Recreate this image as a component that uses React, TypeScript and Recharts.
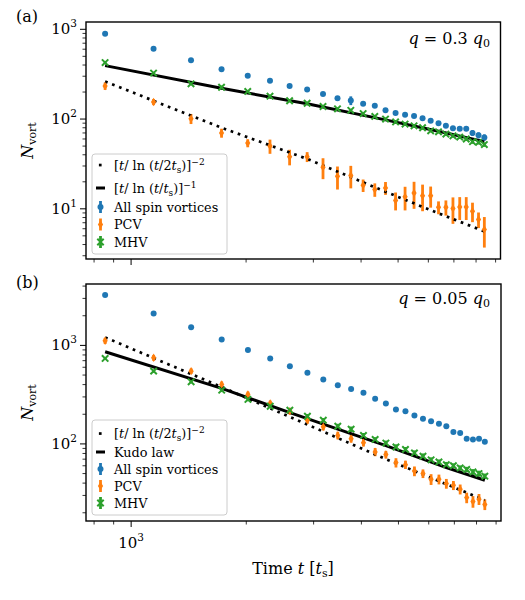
import { ScatterChart, Scatter, XAxis, YAxis, ErrorBar } from "recharts";

const FONT = "'DejaVu Serif', serif";
const BLUE = "#1f77b4";
const ORANGE = "#ff7f0e";
const GREEN = "#2ca02c";

// sampling times (units of t_s)
const times = [855, 1145, 1435, 1725, 2020, 2310, 2600, 2890, 3180, 3470, 3760, 4050, 4345, 4635, 4925, 5215, 5505, 5795, 6085, 6380, 6670, 6960, 7250, 7540, 7830, 8120, 8410];

// (a) q = 0.3 q0
const allA = [894, 608, 453, 359, 303, 267, 234, 213, 190, 171, 161, 148, 141, 125, 117, 112, 108, 102, 96, 90, 84, 79, 78, 78, 70, 66, 62.5];
const allAErr = [10, 8, 6, 5, 5, 4, 4, 4, 4, 4, 18, 3, 3, 3, 3, 3, 3, 3, 3, 3, 3, 3, 4, 4, 5, 5, 5];
const pcvA = [233, 155, 101, 70, 54, 50, 38, 38, 29, 23, 23.5, 18.3, 16.4, 17.1, 12.4, 13.6, 15, 14, 14, 10.4, 10.4, 10.1, 10.5, 10.5, 9.4, 7.6, 5.9];
const pcvAErr = [22, 12, 13, 8, 5.5, 9, 7.5, 4.8, 7.6, 6.6, 6.6, 2.9, 2.8, 2.8, 2.8, 4, 5, 4.6, 3.7, 1.7, 2, 3.3, 3, 3, 2.3, 1.5, 2.2];
const mhvA = [426, 325, 247, 226, 203, 180, 160, 150, 138, 130, 125, 115, 107, 100, 93, 88, 84, 80, 74, 72, 68, 65, 63, 60, 56, 55, 52];
const mhvAErr = [14, 11, 9, 10, 7, 6, 6, 6, 5, 5, 5, 4.5, 4, 4, 4, 3.5, 3.5, 3.5, 3, 3, 3, 3, 3, 3, 3, 3, 3];
const fitTimesA = [855, 1725, 2890, 4635, 6380, 8410];
const dottedA = [262, 80, 36, 15.5, 8.9, 5.6];
const solidA = [394, 220, 148, 98, 73, 56];

// (b) q = 0.05 q0
const allB = [3245, 2113, 1524, 1151, 896, 738, 616, 527, 451, 395, 360, 330, 287, 257, 224, 215, 194, 180, 170, 160, 151, 132, 129, 113, 111, 113, 105];
const allBErr = [40, 30, 25, 20, 15, 12, 10, 9, 8, 7, 7, 6, 6, 5, 5, 5, 5, 5, 9, 6, 8, 5, 5, 4, 4, 4, 4];
const pcvB = [1113, 748, 548, 402, 318, 257, 215, 174, 149, 122, 113, 103, 83, 78, 64.6, 61.6, 53, 50, 43.8, 43.8, 39.6, 38, 34.7, 28.5, 26, 27.5, 24.3];
const pcvBErr = [80, 50, 35, 28, 22, 18, 16, 14, 12, 11, 10, 9, 8, 7, 7, 6, 6, 5, 5.5, 5, 4.5, 4, 4, 3.5, 3.5, 3.5, 3];
const mhvB = [738, 548, 427, 351, 283, 241, 220, 191, 174, 151, 141, 122, 111, 102, 93, 88, 81, 75, 69, 65.5, 61.6, 60, 57, 55, 52, 50, 47];
const mhvBErr = [25, 20, 16, 15, 12, 11, 12, 10, 9, 9, 9, 7, 6, 6, 6, 5, 5, 5, 4, 4, 4, 3.5, 3.5, 3.5, 3.5, 3.5, 3];
const fitTimesB = [855, 1725, 2600, 4635, 6670, 8410];
const dottedB = [1206, 378, 188, 70, 39, 26.8];
const kudoB = [861, 366, 208, 96, 57.5, 42.8];

// axis ticks (log, with minors)
const xTicks = [800, 900, 1000, 2000, 3000, 4000, 5000, 6000, 7000, 8000, 9000];
const yTicksA = [3, 4, 5, 6, 7, 8, 9, 10, 20, 30, 40, 50, 60, 70, 80, 90, 100, 200, 300, 400, 500, 600, 700, 800, 900, 1000];
const yTicksB = [20, 30, 40, 50, 60, 70, 80, 90, 100, 200, 300, 400, 500, 600, 700, 800, 900, 1000, 2000, 3000, 4000];

const rows = (vals: number[], errs: number[]) => times.map((t, i) => ({ t, v: vals[i], e: errs[i] }));
const fit = (ts: number[], vals: number[]) => ts.map((t, i) => ({ t, v: vals[i] }));

const isMajor = (v: number) => Math.abs(Math.log10(v) - Math.round(Math.log10(v))) < 1e-9;

const BlueDot = (p: any) => <circle cx={p.cx} cy={p.cy} r={3} fill={BLUE} />;
const Diamond = (p: any) => (
  <path d={`M${p.cx},${p.cy - 4.2}L${p.cx + 2.6},${p.cy}L${p.cx},${p.cy + 4.2}L${p.cx - 2.6},${p.cy}Z`} fill={ORANGE} />
);
const Cross = (p: any) => {
  const s = 3.2;
  return (
    <path
      d={`M${p.cx - s},${p.cy - s}L${p.cx + s},${p.cy + s}M${p.cx - s},${p.cy + s}L${p.cx + s},${p.cy - s}`}
      stroke={GREEN}
      strokeWidth={2}
      fill="none"
    />
  );
};
const NoShape = () => <g />;

function makeYTick(left: number) {
  return (props: any) => {
    const v = props.payload.value;
    const major = isMajor(v);
    return (
      <g>
        <line x1={left} x2={left - (major ? 6 : 3.5)} y1={props.y} y2={props.y} stroke="#000" strokeWidth={major ? 1 : 0.8} />
        {major && (
          <text x={left - 9} y={props.y + 5} textAnchor="end" fontFamily={FONT} fontSize={15} fill="#000">
            10<tspan dy={-7} fontSize={10.5}>{Math.round(Math.log10(v))}</tspan>
          </text>
        )}
      </g>
    );
  };
}

function makeXTick(bottom: number, labels: boolean) {
  return (props: any) => {
    const v = props.payload.value;
    const major = isMajor(v);
    return (
      <g>
        <line x1={props.x} x2={props.x} y1={bottom} y2={bottom + (major ? 6 : 3.5)} stroke="#000" strokeWidth={major ? 1 : 0.8} />
        {labels && major && (
          <text x={props.x} y={bottom + 27} textAnchor="middle" fontFamily={FONT} fontSize={15} fill="#000">
            10<tspan dy={-7} fontSize={10.5}>{Math.round(Math.log10(v))}</tspan>
          </text>
        )}
      </g>
    );
  };
}

type PanelProps = {
  top: number;
  height: number;
  margin: { top: number; right: number; bottom: number; left: number };
  xHeight: number;
  xLabels: boolean;
  yDomain: [number, number];
  yTicks: number[];
  all: any[];
  pcv: any[];
  mhv: any[];
  dotted: any[];
  solid: any[];
};

function Panel(p: PanelProps) {
  const left = p.margin.left + 60;
  const bottom = p.height - p.margin.bottom - p.xHeight;
  return (
    <div style={{ position: "absolute", left: 0, top: p.top }}>
      <ScatterChart width={525} height={p.height} margin={p.margin}>
        <XAxis
          type="number"
          dataKey="t"
          scale="log"
          domain={[762, 9270]}
          allowDataOverflow
          ticks={xTicks}
          interval={0}
          height={p.xHeight}
          axisLine={false}
          tickLine={false}
          tick={makeXTick(bottom, p.xLabels)}
        />
        <YAxis
          type="number"
          dataKey="v"
          scale="log"
          domain={p.yDomain}
          allowDataOverflow
          ticks={p.yTicks}
          interval={0}
          width={60}
          axisLine={false}
          tickLine={false}
          tick={makeYTick(left)}
        />
        <Scatter data={p.dotted} shape={NoShape} line={{ stroke: "#000", strokeWidth: 2.7, strokeDasharray: "2.7 4.8" }} isAnimationActive={false} />
        <Scatter data={p.solid} shape={NoShape} line={{ stroke: "#000", strokeWidth: 3 }} isAnimationActive={false} />
        <Scatter data={p.all} shape={BlueDot} isAnimationActive={false}>
          <ErrorBar dataKey="e" direction="y" width={0} stroke={BLUE} strokeWidth={2.8} isAnimationActive={false} />
        </Scatter>
        <Scatter data={p.pcv} shape={Diamond} isAnimationActive={false}>
          <ErrorBar dataKey="e" direction="y" width={0} stroke={ORANGE} strokeWidth={2.8} isAnimationActive={false} />
        </Scatter>
        <Scatter data={p.mhv} shape={Cross} isAnimationActive={false}>
          <ErrorBar dataKey="e" direction="y" width={0} stroke={GREEN} strokeWidth={2.8} isAnimationActive={false} />
        </Scatter>
      </ScatterChart>
    </div>
  );
}

function Fit2() {
  return (
    <>
      [<tspan fontStyle="italic">t</tspan>/ ln (<tspan fontStyle="italic">t</tspan>/2<tspan fontStyle="italic">t</tspan>
      <tspan dy={3} fontSize={9}>s</tspan>
      <tspan dy={-3}>)]</tspan>
      <tspan dy={-5} fontSize={9}>−2</tspan>
    </>
  );
}

function Fit1() {
  return (
    <>
      [<tspan fontStyle="italic">t</tspan>/ ln (<tspan fontStyle="italic">t</tspan>/<tspan fontStyle="italic">t</tspan>
      <tspan dy={3} fontSize={9}>s</tspan>
      <tspan dy={-3}>)]</tspan>
      <tspan dy={-5} fontSize={9}>−1</tspan>
    </>
  );
}

function Legend({ x, y, w, h, rowsY, second }: { x: number; y: number; w: number; h: number; rowsY: number[]; second: "fit1" | "kudo" }) {
  const hx = 100.5;
  const tx = 114;
  const txt = { fontFamily: FONT, fontSize: 12.8, fill: "#000" } as const;
  return (
    <g>
      <rect x={x} y={y} width={w} height={h} rx={3} fill="#fff" fillOpacity={0.8} stroke="#cccccc" strokeWidth={1} />
      <rect x={hx - 1.6} y={rowsY[0] - 1.3} width={2.7} height={2.7} fill="#000" />
      <text x={tx} y={rowsY[0] + 4.5} {...txt}>
        <Fit2 />
      </text>
      <line x1={hx - 4.5} x2={hx + 4.5} y1={rowsY[1]} y2={rowsY[1]} stroke="#000" strokeWidth={3} />
      <text x={tx} y={rowsY[1] + 4.5} {...txt}>
        {second === "kudo" ? "Kudo law" : <Fit1 />}
      </text>
      <line x1={hx} x2={hx} y1={rowsY[2] - 6} y2={rowsY[2] + 6} stroke={BLUE} strokeWidth={2.8} />
      <BlueDot cx={hx} cy={rowsY[2]} />
      <text x={tx} y={rowsY[2] + 4.5} {...txt}>All spin vortices</text>
      <line x1={hx} x2={hx} y1={rowsY[3] - 6} y2={rowsY[3] + 6} stroke={ORANGE} strokeWidth={2.8} />
      <Diamond cx={hx} cy={rowsY[3]} />
      <text x={tx} y={rowsY[3] + 4.5} {...txt}>PCV</text>
      <line x1={hx} x2={hx} y1={rowsY[4] - 6} y2={rowsY[4] + 6} stroke={GREEN} strokeWidth={2.8} />
      <Cross cx={hx} cy={rowsY[4]} />
      <text x={tx} y={rowsY[4] + 4.5} {...txt}>MHV</text>
    </g>
  );
}

function Overlay() {
  const t = { fontFamily: FONT, fill: "#000" } as const;
  return (
    <svg width={525} height={600} style={{ position: "absolute", left: 0, top: 0, pointerEvents: "none" }}>
      <rect x={86} y={22} width={414.5} height={237} fill="none" stroke="#000" strokeWidth={1.4} />
      <rect x={86} y={284} width={415} height={237} fill="none" stroke="#000" strokeWidth={1.4} />

      <text x={16} y={22} fontSize={16} {...t}>(a)</text>
      <text x={16} y={288} fontSize={16} {...t}>(b)</text>

      <text x={490} y={44} textAnchor="end" fontSize={16} {...t}>
        <tspan fontStyle="italic">q</tspan> = 0.3 <tspan fontStyle="italic">q</tspan>
        <tspan dy={3} fontSize={11}>0</tspan>
      </text>
      <text x={490} y={304} textAnchor="end" fontSize={16} {...t}>
        <tspan fontStyle="italic">q</tspan> = 0.05 <tspan fontStyle="italic">q</tspan>
        <tspan dy={3} fontSize={11}>0</tspan>
      </text>

      <text transform="translate(33,140.5) rotate(-90)" textAnchor="middle" fontSize={16} {...t}>
        <tspan fontStyle="italic">N</tspan>
        <tspan dy={3} fontSize={11}>vort</tspan>
      </text>
      <text transform="translate(33,402.5) rotate(-90)" textAnchor="middle" fontSize={16} {...t}>
        <tspan fontStyle="italic">N</tspan>
        <tspan dy={3} fontSize={11}>vort</tspan>
      </text>

      <text x={293} y={574} textAnchor="middle" fontSize={16} {...t}>
        Time <tspan fontStyle="italic">t</tspan> [<tspan fontStyle="italic">t</tspan>
        <tspan dy={3} fontSize={11}>s</tspan>
        <tspan dy={-3}>]</tspan>
      </text>

      <Legend x={92} y={154} w={135} h={100} rowsY={[165, 188, 207, 224.5, 242]} second="fit1" />
      <Legend x={92} y={420} w={135} h={95} rowsY={[433.5, 452, 469, 486, 503]} second="kudo" />
    </svg>
  );
}

export default function App() {
  return (
    <div style={{ position: "absolute", left: 0, top: 0, width: 525, height: 600, background: "#fff" }}>
      <Panel
        top={0}
        height={270}
        margin={{ top: 22, right: 24.5, bottom: 0, left: 26 }}
        xHeight={11}
        xLabels={false}
        yDomain={[2.76, 1206]}
        yTicks={yTicksA}
        all={rows(allA, allAErr)}
        pcv={rows(pcvA, pcvAErr)}
        mhv={rows(mhvA, mhvAErr)}
        dotted={fit(fitTimesA, dottedA)}
        solid={fit(fitTimesA, solidA)}
      />
      <Panel
        top={270}
        height={330}
        margin={{ top: 14, right: 24, bottom: 39, left: 26 }}
        xHeight={40}
        xLabels={true}
        yDomain={[16.5, 4200]}
        yTicks={yTicksB}
        all={rows(allB, allBErr)}
        pcv={rows(pcvB, pcvBErr)}
        mhv={rows(mhvB, mhvBErr)}
        dotted={fit(fitTimesB, dottedB)}
        solid={fit(fitTimesB, kudoB)}
      />
      <Overlay />
    </div>
  );
}
